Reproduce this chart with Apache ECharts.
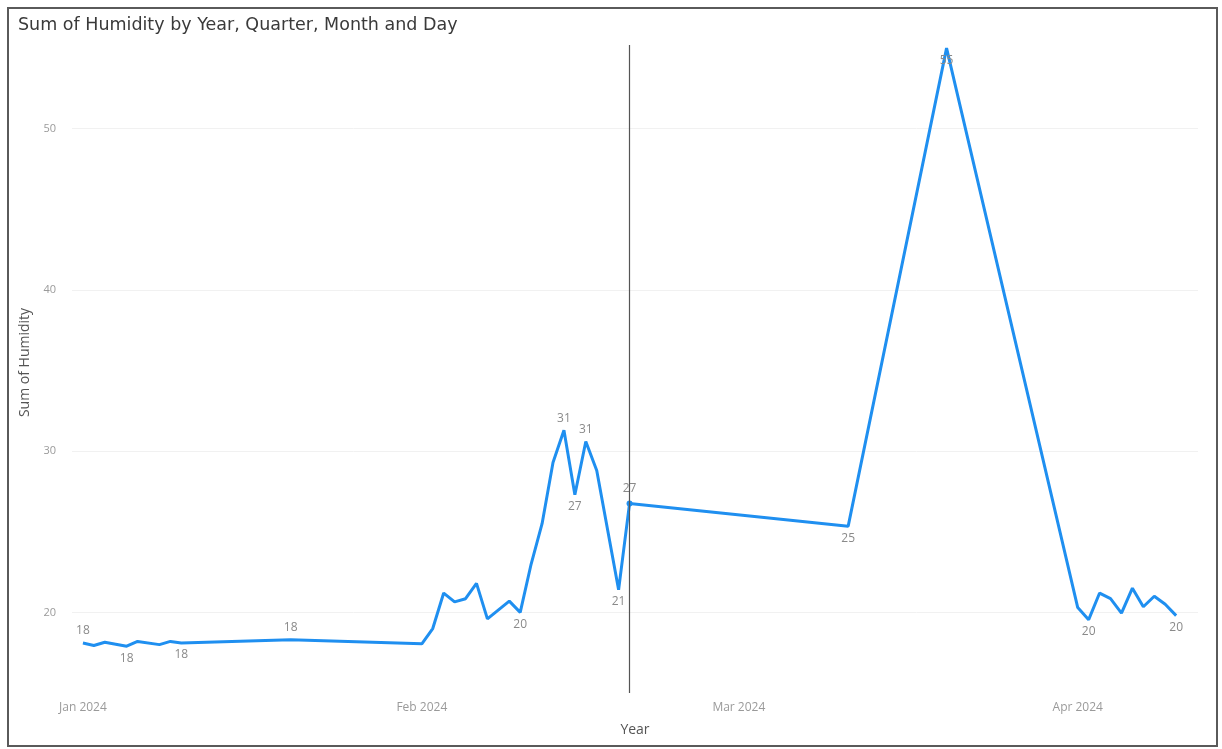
<!DOCTYPE html>
<html>
<head>
<meta charset="utf-8">
<script src="https://cdn.jsdelivr.net/npm/echarts@6/dist/echarts.min.js"></script>
<style>
html,body{margin:0;padding:0;background:#fff;}
#frame{position:absolute;left:7px;top:7px;width:1207px;height:736px;border:2px solid #5a5a5a;box-sizing:content-box;}
#chart{position:absolute;left:0;top:0;width:1222px;height:749px;}
</style>
</head>
<body>
<div id="frame"></div>
<div id="chart"></div>
<script>
const dates = [
  '2024-01-01','2024-01-02','2024-01-03','2024-01-05','2024-01-06','2024-01-08','2024-01-09','2024-01-10',
  '2024-01-20','2024-02-01','2024-02-02','2024-02-03','2024-02-04','2024-02-05','2024-02-06','2024-02-07',
  '2024-02-09','2024-02-10','2024-02-11','2024-02-12','2024-02-13','2024-02-14','2024-02-15','2024-02-16',
  '2024-02-17','2024-02-19','2024-02-20','2024-03-11','2024-03-20',
  '2024-04-01','2024-04-02','2024-04-03','2024-04-04','2024-04-05','2024-04-06','2024-04-07','2024-04-08','2024-04-09','2024-04-10'
];
const humidity = [
  18.1,17.95,18.15,17.9,18.2,18.0,18.2,18.1,
  18.3,18.05,19.0,21.2,20.65,20.85,21.8,19.6,
  20.7,20.0,23.0,25.5,29.3,31.3,27.3,30.6,
  28.8,21.4,26.75,25.35,55.0,
  20.3,19.55,21.2,20.85,19.95,21.5,20.35,21.0,20.5,19.8
];
// where a data label is shown: 'top', 'bottom' or '' (none)
const labelPositions = [
  'top','','','bottom','','','','bottom',
  'top','','','','','','','',
  '','bottom','','','','top','bottom','top',
  '','bottom','top','bottom','bottom',
  '','bottom','','','','','','','','bottom'
];
const xTickDates = ['2024-01-01','2024-02-01','2024-03-01','2024-04-01'];
const xTickLabels = ['Jan 2024','Feb 2024','Mar 2024','Apr 2024'];
const yTicks = [20,30,40,50];
const hoverDate = '2024-02-20';

function ts(s){ const p = s.split('-').map(Number); return Date.UTC(p[0], p[1]-1, p[2]); }

const tickTs = xTickDates.map(ts);
const hoverIdx = dates.indexOf(hoverDate);

const seriesData = dates.map((d, i) => {
  const item = { value: [ts(d), humidity[i]] };
  if (labelPositions[i]) {
    item.label = { show: true, position: labelPositions[i] };
  }
  return item;
});

const chart = echarts.init(document.getElementById('chart'), null, { renderer: 'canvas' });
chart.setOption({
  backgroundColor: 'transparent',
  animation: false,
  title: {
    text: 'Sum of Humidity by Year, Quarter, Month and Day',
    left: 13, top: 11,
    textStyle: { fontFamily: 'DejaVu Sans', fontSize: 17.5, fontWeight: 'normal', color: '#3a3a3a' }
  },
  grid: { left: 72, right: 24, top: 32, bottom: 56 },
  xAxis: {
    type: 'value',
    min: ts('2023-12-31'),
    max: ts('2024-04-12'),
    name: 'Year',
    nameLocation: 'middle',
    nameGap: 30,
    nameTextStyle: { fontFamily: 'Open Sans', fontSize: 14, color: '#555' },
    axisLine: { show: false },
    axisTick: { show: false, customValues: tickTs },
    axisLabel: {
      customValues: tickTs,
      margin: 9,
      fontFamily: 'Open Sans', fontSize: 12, color: '#9a9a9a',
      formatter: function (v) { const i = tickTs.indexOf(v); return i >= 0 ? xTickLabels[i] : ''; }
    },
    splitLine: { show: false }
  },
  yAxis: {
    type: 'value',
    min: 15,
    max: 56,
    name: 'Sum of Humidity',
    nameLocation: 'middle',
    nameGap: 40,
    nameTextStyle: { fontFamily: 'Open Sans', fontSize: 14, color: '#555' },
    axisLine: { show: false },
    axisTick: { show: false, customValues: yTicks },
    axisLabel: { customValues: yTicks, margin: 16, fontFamily: 'Open Sans', fontSize: 11, color: '#9a9a9a' },
    splitLine: { show: true, lineStyle: { color: '#f1f1f1', width: 1 } }
  },
  series: [{
    type: 'line',
    data: seriesData,
    symbol: 'circle',
    symbolSize: function (v, p) { return p.dataIndex === hoverIdx ? 6 : 0; },
    showAllSymbol: true,
    itemStyle: { color: '#1f8ff0' },
    lineStyle: { color: '#1f8ff0', width: 3 },
    label: {
      show: false,
      distance: 6,
      fontFamily: 'Open Sans', fontSize: 12, color: '#8a8a8a',
      formatter: function (p) { return Math.round(p.value[1]); }
    },
    markLine: {
      silent: true,
      symbol: 'none',
      label: { show: false },
      lineStyle: { color: '#555', width: 1.2, type: 'solid' },
      data: [[ { coord: [ts(hoverDate), 55.2] }, { coord: [ts(hoverDate), 15] } ]]
    },
    z: 3
  }]
});
</script>
</body>
</html>
